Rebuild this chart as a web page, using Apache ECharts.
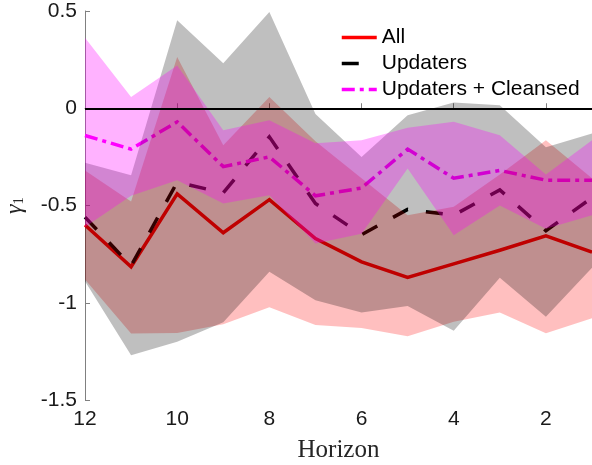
<!DOCTYPE html>
<html>
<head>
<meta charset="utf-8">
<script src="https://cdn.jsdelivr.net/npm/echarts@6/dist/echarts.min.js"></script>
<style>
  html, body { margin: 0; padding: 0; background: #ffffff; }
  #chart { width: 592px; height: 465px; }
</style>
</head>
<body>
<div id="chart"></div>
<script>
// Forecast horizon (plotted right-to-left)
const horizons = [12, 11, 10, 9, 8, 7, 6, 5, 4, 3, 2, 1];
const xTicks = [2, 4, 6, 8, 10, 12];

// gamma_1 estimates and confidence bands
const allEst    = [-0.60, -0.815, -0.44, -0.64, -0.47, -0.67, -0.79, -0.87, -0.80, -0.73, -0.656, -0.74];
const allLow    = [-0.88, -1.158, -1.155, -1.11, -1.023, -1.115, -1.13, -1.172, -1.098, -1.05, -1.157, -1.08];
const allHigh   = [-0.32, -0.48, 0.264, -0.19, 0.058, -0.17, -0.36, -0.55, -0.507, -0.34, -0.165, -0.36];

const updEst    = [-0.56, -0.81, -0.38, -0.435, -0.147, -0.49, -0.65, -0.52, -0.55, -0.42, -0.63, -0.46];
const updLow    = [-0.89, -1.27, -1.20, -1.10, -0.84, -0.987, -1.05, -1.017, -1.144, -0.872, -1.072, -0.82];
const updHigh   = [-0.28, -0.345, 0.452, 0.231, 0.495, -0.03, -0.25, -0.036, 0.03, 0.015, -0.20, -0.13];

const clnEst    = [-0.14, -0.21, -0.07, -0.30, -0.25, -0.45, -0.41, -0.21, -0.36, -0.32, -0.37, -0.37];
const clnLow    = [-0.61, -0.45, -0.37, -0.49, -0.447, -0.695, -0.645, -0.31, -0.653, -0.50, -0.62, -0.55];
const clnHigh   = [0.363, 0.058, 0.22, -0.113, -0.062, -0.18, -0.165, -0.10, -0.07, -0.139, -0.34, -0.165];

const yTicks = [-1.5, -1, -0.5, 0, 0.5];

const sans = '"Liberation Sans", Arial, Helvetica, sans-serif';
const serif = '"Liberation Serif", "Times New Roman", serif';

const pairs = (vals) => horizons.map((h, i) => [h, vals[i]]);
const rows = (lo, hi) => horizons.map((h, i) => [h, lo[i], hi[i]]);

function estimateLine(name, vals, color, dash) {
  return {
    name: name, type: 'line', data: pairs(vals), z: 2,
    symbol: 'none', showSymbol: false, silent: true,
    lineStyle: { color: color, width: 3.5, type: dash, cap: 'butt', join: 'miter' },
    itemStyle: { color: color }
  };
}

// A shaded band drawn as one polygon: upper edge left-to-right, lower edge back
function band(id, lo, hi, fill) {
  return {
    name: id, type: 'custom', data: rows(lo, hi), z: 3, silent: true,
    encode: { x: 0, y: [1, 2] },
    clip: true,
    renderItem: function (params, api) {
      if (params.dataIndex !== 0) return null;
      const n = params.dataInsideLength;
      const upper = [], lower = [];
      for (let i = 0; i < n; i++) {
        const x = api.value(0, i);
        lower.push(api.coord([x, api.value(1, i)]));
        upper.push(api.coord([x, api.value(2, i)]));
      }
      return {
        type: 'polygon',
        shape: { points: upper.concat(lower.reverse()) },
        style: { fill: fill, stroke: null }
      };
    }
  };
}

const chart = echarts.init(document.getElementById('chart'), null, { renderer: 'canvas' });

chart.setOption({
  animation: false,
  backgroundColor: '#ffffff',
  grid: { left: 85, right: 0, top: 11, bottom: 65, containLabel: false, outerBoundsMode: 'none' },
  legend: {
    data: ['All', 'Updaters', 'Updaters + Cleansed'],
    orient: 'vertical',
    left: 340, top: 27, padding: 0,
    itemWidth: 35, itemHeight: 14, itemGap: 5,
    selectedMode: false,
    itemStyle: { opacity: 0 },
    lineStyle: { width: 3.5 },
    textStyle: { fontFamily: sans, fontSize: 21, color: '#000', lineHeight: 21 }
  },
  xAxis: {
    type: 'value', min: 1, max: 12, inverse: true,
    name: 'Horizon', nameLocation: 'middle', nameGap: 38,
    nameTextStyle: { fontFamily: serif, fontSize: 25, color: '#262626' },
    axisLine: { show: true, lineStyle: { color: '#808080', width: 1 } },
    axisTick: { show: true, inside: true, length: 5, customValues: xTicks, lineStyle: { color: '#808080' } },
    axisLabel: { customValues: xTicks, fontFamily: sans, fontSize: 21, color: '#1a1a1a', margin: 9 },
    splitLine: { show: false }
  },
  yAxis: {
    type: 'value', min: -1.5, max: 0.5, interval: 0.5,
    name: '{g|γ}{s|1}', nameLocation: 'middle', nameGap: 58, nameRotate: 90,
    nameTextStyle: {
      color: '#262626',
      rich: {
        g: { fontFamily: serif, fontSize: 24, fontStyle: 'italic', color: '#262626' },
        s: { fontFamily: serif, fontSize: 15, verticalAlign: 'bottom', color: '#262626' }
      }
    },
    axisLine: { show: true, lineStyle: { color: '#808080', width: 1 } },
    axisTick: { show: true, inside: true, length: 5, lineStyle: { color: '#808080' } },
    axisLabel: { fontFamily: sans, fontSize: 21, color: '#1a1a1a', margin: 8,
      customValues: yTicks },
    splitLine: { show: false }
  },
  series: [
    estimateLine('All', allEst, '#ff0000', 'solid'),
    estimateLine('Updaters', updEst, '#000000', [17, 18]),
    estimateLine('Updaters + Cleansed', clnEst, '#ff00ff', [13, 5, 4, 5]),
    band('allBand', allLow, allHigh, 'rgba(255,0,0,0.25)'),
    band('updBand', updLow, updHigh, 'rgba(0,0,0,0.25)'),
    band('clnBand', clnLow, clnHigh, 'rgba(255,0,255,0.3)'),
    {
      name: 'zero', type: 'line', data: [], z: 5, silent: true,
      markLine: {
        silent: true, symbol: ['none', 'none'], label: { show: false },
        lineStyle: { color: '#000000', width: 2, type: 'solid' },
        data: [{ yAxis: 0 }]
      }
    }
  ]
});
</script>
</body>
</html>
